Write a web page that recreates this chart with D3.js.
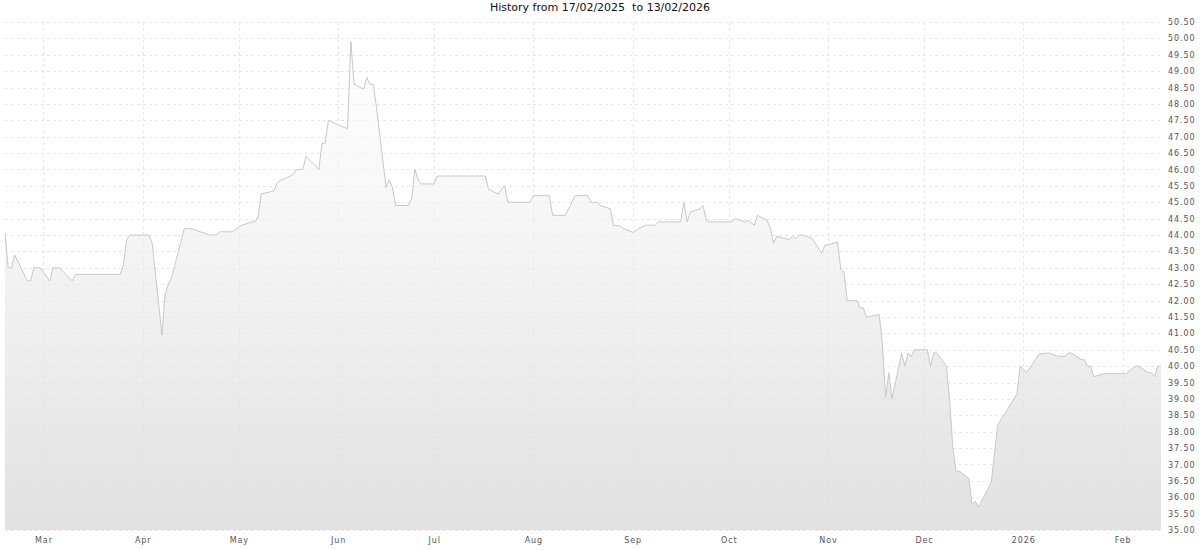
<!DOCTYPE html>
<html><head><meta charset="utf-8">
<script src="https://cdn.jsdelivr.net/npm/d3@7"></script>
<style>
html,body{margin:0;padding:0;background:#fff;}
svg{display:block;}
text{font-family:"DejaVu Sans",Verdana,sans-serif;}
</style></head>
<body><svg id="chart" width="1200" height="550"></svg>
<script>
const title = "History from 17/02/2025  to 13/02/2026";
const startDate = "2025-02-17";
const endDate = "2026-02-13";
const dates = [
"2025-02-17","2025-02-18","2025-02-19","2025-02-20","2025-02-24","2025-02-25","2025-02-26","2025-02-28",
"2025-03-03","2025-03-04","2025-03-06","2025-03-10","2025-03-11","2025-03-25","2025-03-26","2025-03-27","2025-03-28",
"2025-04-03","2025-04-04","2025-04-07","2025-04-08","2025-04-09","2025-04-10","2025-04-14","2025-04-16","2025-04-22",
"2025-04-24","2025-04-25","2025-04-29","2025-05-01","2025-05-02","2025-05-05","2025-05-06","2025-05-07","2025-05-08",
"2025-05-12","2025-05-13","2025-05-14","2025-05-15","2025-05-18","2025-05-19","2025-05-21","2025-05-22","2025-05-26",
"2025-05-27","2025-05-28","2025-05-29","2025-06-02","2025-06-03","2025-06-04","2025-06-05","2025-06-06","2025-06-09",
"2025-06-10","2025-06-11","2025-06-12","2025-06-13","2025-06-16","2025-06-17","2025-06-18","2025-06-19","2025-06-23",
"2025-06-24","2025-06-25","2025-06-26","2025-06-27","2025-07-01","2025-07-02","2025-07-17","2025-07-18","2025-07-21",
"2025-07-23","2025-07-24","2025-07-31","2025-08-01","2025-08-06","2025-08-07","2025-08-11","2025-08-14","2025-08-18",
"2025-08-19","2025-08-21","2025-08-22","2025-08-25","2025-08-26","2025-08-28","2025-08-29","2025-09-01","2025-09-03",
"2025-09-05","2025-09-08","2025-09-09","2025-09-16","2025-09-17","2025-09-18","2025-09-19","2025-09-22","2025-09-23",
"2025-09-24","2025-09-25","2025-10-02","2025-10-03","2025-10-06","2025-10-07","2025-10-09","2025-10-10","2025-10-13",
"2025-10-14","2025-10-15","2025-10-16","2025-10-20","2025-10-21","2025-10-22","2025-10-23","2025-10-24","2025-10-27",
"2025-10-28","2025-10-30","2025-10-31","2025-11-04","2025-11-05","2025-11-06","2025-11-07","2025-11-10","2025-11-11",
"2025-11-12","2025-11-13","2025-11-17","2025-11-18","2025-11-19","2025-11-20","2025-11-21","2025-11-24","2025-11-25",
"2025-11-26","2025-11-27","2025-11-28","2025-12-02","2025-12-03","2025-12-04","2025-12-05","2025-12-08","2025-12-09",
"2025-12-10","2025-12-11","2025-12-12","2025-12-15","2025-12-16","2025-12-17","2025-12-18","2025-12-22","2025-12-24",
"2025-12-30","2025-12-31","2026-01-02","2026-01-06","2026-01-09","2026-01-12","2026-01-14","2026-01-15","2026-01-16",
"2026-01-19","2026-01-20","2026-01-21","2026-01-22","2026-01-23","2026-01-26","2026-02-02","2026-02-05","2026-02-06",
"2026-02-09","2026-02-10","2026-02-11","2026-02-12","2026-02-13"
];
const prices = [
44.05,43.0,43.0,43.4,42.6,42.6,43.0,43.0,
42.6,43.0,43.0,42.6,42.8,42.8,43.1,43.85,44.0,
44.0,43.73,40.95,42.2,42.5,42.7,44.2,44.2,44.0,
44.0,44.1,44.1,44.24,44.3,44.4,44.4,44.55,45.25,
45.35,45.6,45.68,45.7,45.85,46.0,46.0,46.4,46.0,
46.8,46.8,47.5,47.32,47.28,47.25,49.9,48.6,48.45,
48.8,48.6,48.6,47.9,45.45,45.68,45.45,44.9,44.9,
45.1,46.0,45.68,45.56,45.56,45.8,45.8,45.4,45.25,
45.5,45.0,45.0,45.2,45.2,44.6,44.6,45.2,45.2,
45.0,45.0,44.9,44.8,44.3,44.28,44.2,44.08,44.2,
44.3,44.3,44.4,44.4,45.0,44.4,44.7,44.8,44.9,
44.45,44.4,44.4,44.5,44.4,44.45,44.3,44.6,44.45,
44.2,43.75,43.96,43.86,43.96,43.88,44.0,44.0,43.9,
43.75,43.44,43.68,43.78,42.95,42.87,42.0,42.0,41.78,
41.78,41.5,41.57,40.7,39.05,39.8,39.0,40.4,40.0,
40.4,40.3,40.5,40.5,40.0,40.4,40.4,40.0,38.96,
37.5,36.8,36.8,36.57,35.78,35.88,35.7,36.45,38.2,
39.15,40.0,39.8,40.38,40.4,40.3,40.3,40.4,40.4,
40.2,40.2,40.0,40.0,39.68,39.77,39.77,40.0,40.0,
39.8,39.8,39.68,40.0,40.0
];
const yTicks = [35.0,35.5,36.0,36.5,37.0,37.5,38.0,38.5,39.0,39.5,40.0,40.5,41.0,41.5,42.0,42.5,43.0,43.5,44.0,44.5,45.0,45.5,46.0,46.5,47.0,47.5,48.0,48.5,49.0,49.5,50.0,50.5];
const monthTicks = ["2025-03-01","2025-04-01","2025-05-01","2025-06-01","2025-07-01","2025-08-01","2025-09-01","2025-10-01","2025-11-01","2025-12-01","2026-01-01","2026-02-01"];
const monthLabels = ["Mar","Apr","May","Jun","Jul","Aug","Sep","Oct","Nov","Dec","2026","Feb"];

const parse = d3.timeParse("%Y-%m-%d");
const data = dates.map((d,i)=>({date:parse(d), value:prices[i]}));

const svg = d3.select("#chart");
const pLeft = 5, pRight = 1161, pTop = 22, pBottom = 530;

const x = d3.scaleTime().domain([parse(startDate), parse(endDate)]).range([pLeft, pRight]);
const y = d3.scaleLinear().domain([35, 50.5]).range([pBottom, pTop]);

const defs = svg.append("defs");
const grad = defs.append("linearGradient").attr("id","fillGrad")
  .attr("gradientUnits","userSpaceOnUse").attr("x1",0).attr("x2",0).attr("y1",pTop).attr("y2",pBottom);
grad.append("stop").attr("offset","0%").attr("stop-color","#ffffff");
grad.append("stop").attr("offset","35%").attr("stop-color","#f7f7f7");
grad.append("stop").attr("offset","100%").attr("stop-color","#dfdfdf");

function gridLines(g, color, opacity){
  g.append("g").selectAll("line").data(yTicks).join("line")
    .attr("x1",pLeft).attr("x2",pRight)
    .attr("y1",d=>Math.round(y(d))+0.5).attr("y2",d=>Math.round(y(d))+0.5)
    .attr("stroke",color).attr("stroke-opacity",opacity).attr("stroke-dasharray","3,3");
  g.append("g").selectAll("line").data(monthTicks).join("line")
    .attr("x1",d=>Math.round(x(parse(d)))+0.5).attr("x2",d=>Math.round(x(parse(d)))+0.5)
    .attr("y1",pTop).attr("y2",pBottom)
    .attr("stroke",color).attr("stroke-opacity",opacity).attr("stroke-dasharray","3,3");
}
gridLines(svg, "#ececec", 1);

const area = d3.area().x(d=>x(d.date)).y0(y(35)).y1(d=>y(d.value));
svg.append("path").datum(data).attr("d",area).attr("fill","url(#fillGrad)").attr("fill-opacity",0.92);

const line = d3.line().x(d=>x(d.date)).y(d=>y(d.value));
svg.append("path").datum(data).attr("d",line).attr("fill","none").attr("stroke","#c8c8c8").attr("stroke-width",1);

gridLines(svg, "#d8d8d8", 0.25);

const yAxis = d3.axisRight(y).tickValues(yTicks).tickFormat(d3.format(".2f")).tickSize(0).tickPadding(0);
const gy = svg.append("g").attr("transform",`translate(${pRight+7},0)`).call(yAxis);
gy.select(".domain").remove();
gy.selectAll("text").attr("font-size","8px").attr("fill","#555").attr("letter-spacing","0.9px")
  .attr("font-family","'DejaVu Sans',Verdana,sans-serif");

const xAxis = d3.axisBottom(x).tickValues(monthTicks.map(parse))
  .tickFormat((d,i)=>monthLabels[i]).tickSize(0).tickPadding(0);
const gx = svg.append("g").attr("transform",`translate(0,${pBottom+7})`).call(xAxis);
gx.select(".domain").remove();
gx.selectAll("text").attr("font-size","8px").attr("fill","#555").attr("letter-spacing","0.9px")
  .attr("font-family","'DejaVu Sans',Verdana,sans-serif");

svg.append("text").attr("x",600).attr("y",11).attr("text-anchor","middle")
  .attr("font-size","11px").attr("fill","#111")
  .attr("xml:space","preserve").style("white-space","pre").text(title);
</script>
</body></html>
